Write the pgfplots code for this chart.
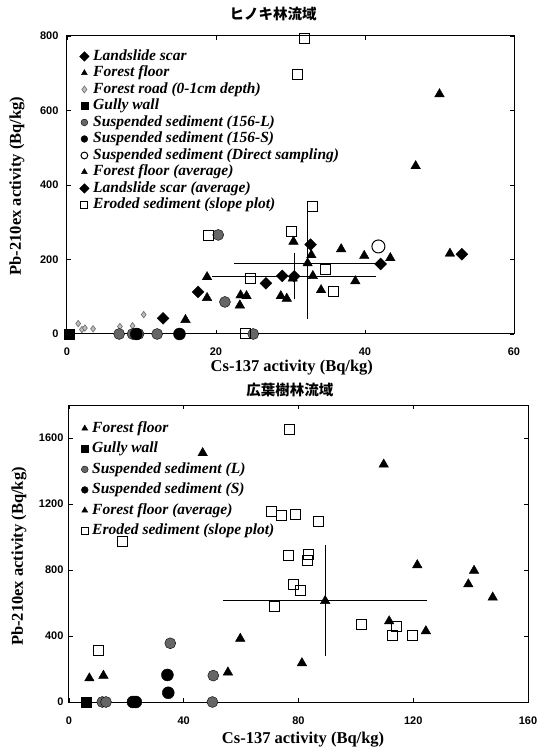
\documentclass[border=0pt]{standalone}
\usepackage{fontspec}
\setmainfont{Liberation Serif}
\setsansfont{Liberation Sans}
\newfontfamily\jp{Noto Sans CJK JP}
\usepackage{pgfplots}
\pgfplotsset{compat=1.18}

\pgfplotsset{
  myax/.style={
    scale only axis, clip=false,
    axis line style={line width=1pt},
    tick align=inside, major tick length=4pt,
    tick style={black, line width=0.8pt},
    tick label style={font=\sffamily\bfseries\fontsize{11}{12}\selectfont},
    /pgf/number format/assume math mode=true,
    /pgf/number format/1000 sep={},
    label style={font=\bfseries\fontsize{16.5}{18}\selectfont},
    title style={font=\jp\bfseries\fontsize{14.5}{16}\selectfont},
    legend cell align=left,
    legend image code/.code={\draw[##1, mark size=3.4pt] plot coordinates {(0pt,0pt)};},
    legend style={draw=none, fill=none, anchor=north west,
      font=\bfseries\itshape\fontsize{15.5}{16}\selectfont,
      nodes={inner sep=0pt, text height=11pt, text depth=3.5pt},
      /tikz/column 1/.style={column sep=4pt}},
  },
  tri/.style={only marks, mark=triangle*, mark size=5.5pt, black},
  dia/.style={only marks, mark=square*, mark size=4.2pt, mark options={rotate=45}, black},
  road/.style={only marks, mark=diamond*, mark size=3.2pt, mark options={draw=black!55, line width=0.7pt, fill=black!25}},
  gully/.style={only marks, mark=square*, mark size=5pt, black},
  susL/.style={only marks, mark=*, mark size=5.5pt, mark options={draw=black, fill=black!60}},
  susS/.style={only marks, mark=*, mark size=6pt, black},
  open/.style={only marks, mark=o, mark size=6.5pt, mark options={line width=1pt}, black},
  ero/.style={only marks, mark=square, mark size=5pt, mark options={line width=1pt, fill=white}, black},
  eb/.style={error bars/.cd, x dir=both, x explicit, y dir=both, y explicit,
    error bar style={line width=1pt, black},
    error mark=-,
    error mark options={line width=1.2pt, mark size=4pt, black, solid}},
}

\begin{document}
\begin{tikzpicture}
\path[use as bounding box] (0pt,0pt) rectangle (546pt,748pt);

\begin{axis}[myax, at={(67pt,414pt)}, anchor=south west, width=447pt, height=298pt,
  xmin=0, xmax=60, ymin=0, ymax=800,
  xtick={0,20,40,60}, ytick={0,200,400,600,800},
  xticklabel style={yshift=-10pt}, yticklabel style={xshift=-5pt},
  title={ヒノキ林流域}, title style={at={(axis description cs:0.461,1.054)}, anchor=center},
  xlabel={Cs-137 activity (Bq/kg)}, xlabel style={at={(axis description cs:0.503,-0.114)}, anchor=center},
  ylabel={Pb-210ex activity (Bq/kg)}, ylabel style={at={(axis description cs:-0.112,0.497)}, anchor=center},
  legend style={at={(0.021,0.963)}, /tikz/row sep=2pt}]
\addplot[dia] coordinates {(12.9,42) (17.6,113) (26.7,136) (28.9,156) (32.7,240) (42.1,188) (53.0,214)};
\addlegendentry{Landslide scar}
\addplot[tri] coordinates {(15.9,38) (18.8,153) (18.8,97) (23.2,77) (23.3,104) (24.1,102) (28.7,102)
  (29.5,95) (30.3,149) (30.4,248) (32.8,212) (33.0,156) (34.1,118) (36.8,228) (38.7,142)
  (39.9,210) (43.4,204) (51.4,216) (46.8,451) (50.0,644)};
\addlegendentry{Forest floor}
\addplot[road] coordinates {(1.5,28) (2.0,12) (2.4,16) (3.5,14) (7.1,20) (8.8,22) (10.3,52)};
\addlegendentry{Forest road (0-1cm depth)}
\addplot[gully] coordinates {(0.3,0)};
\addlegendentry{Gully wall}
\addplot[susL] coordinates {(7.0,0) (8.8,0) (9.6,0) (12.1,0) (20.3,266) (21.2,86) (25.0,0)};
\addlegendentry{Suspended sediment (156-L)}
\addplot[susS] coordinates {(9.3,0) (15.1,0)};
\addlegendentry{Suspended sediment (156-S)}
\addplot[open] coordinates {(41.8,235)};
\addlegendentry{Suspended sediment (Direct sampling)}
\addplot[tri, eb] coordinates {(32.3,190) +- (9.3,138)};
\addlegendentry{Forest floor (average)}
\addplot[dia, eb] coordinates {(30.5,155) +- (10.5,51)};
\addlegendentry{Landslide scar (average)}
\addplot[ero] coordinates {(19.0,265) (24.6,148) (30.2,276) (32.9,343) (34.7,172) (35.8,114)
  (23.9,0) (31.0,697) (31.9,792)};
\addlegendentry{Eroded sediment (slope plot)}
\end{axis}

\begin{axis}[myax, at={(69pt,46pt)}, anchor=south west, width=459pt, height=297pt,
  xmin=0, xmax=160, ymin=0, ymax=1800,
  xtick={0,40,80,120,160}, ytick={0,400,800,1200,1600},
  xticklabel style={yshift=-11pt}, yticklabel style={xshift=-2pt},
  title={広葉樹林流域}, title style={at={(axis description cs:0.481,1.03)}, anchor=center},
  xlabel={Cs-137 activity (Bq/kg)}, xlabel style={at={(axis description cs:0.51,-0.127)}, anchor=center},
  ylabel={Pb-210ex activity (Bq/kg)}, ylabel style={at={(axis description cs:-0.109,0.49)}, anchor=center},
  legend style={at={(0.02,0.953)}, /tikz/row sep=6pt}]
\addplot[tri] coordinates {(46.6,1509) (109.7,1440) (121.4,830) (141.2,796) (139.2,714) (147.7,634)
  (111.6,490) (124.4,430) (59.7,384) (81.2,236) (55.4,180) (7.1,144) (12.0,160)};
\addlegendentry{Forest floor}
\addplot[gully] coordinates {(5.9,0)};
\addlegendentry{Gully wall}
\addplot[susL] coordinates {(35.3,356) (50.3,160) (50.0,0) (11.6,0) (12.9,0)};
\addlegendentry{Suspended sediment (L)}
\addplot[susS] coordinates {(34.3,164) (34.6,56) (22.3,0) (23.3,0)};
\addlegendentry{Suspended sediment (S)}
\addplot[tri, eb] coordinates {(89.3,613) +- (34.1,313)};
\addlegendentry{Forest floor (average)}
\addplot[ero] coordinates {(77.0,1653) (70.5,1155) (74.2,1129) (79.1,1139) (87.1,1094) (18.6,971)
  (76.5,890) (83.5,895) (83.0,860) (78.2,714) (80.6,676) (71.5,576) (101.8,470) (114.0,460)
  (112.6,404) (119.9,404) (10.4,310)};
\addlegendentry{Eroded sediment (slope plot)}
\end{axis}
\end{tikzpicture}
\end{document}
